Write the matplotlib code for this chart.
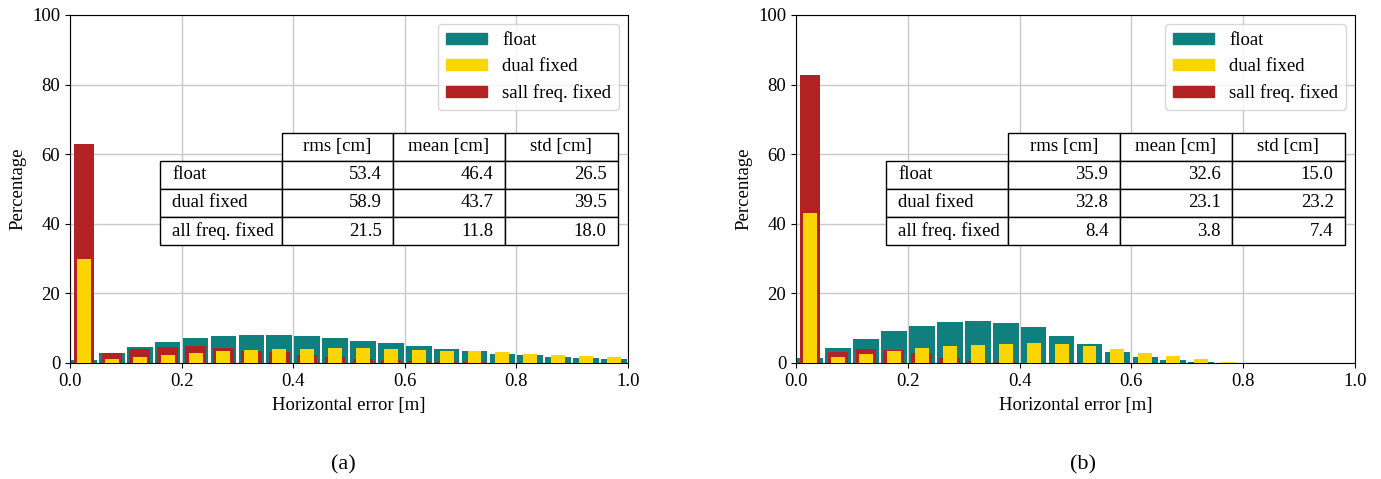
import numpy as np
import matplotlib.pyplot as plt
from matplotlib.patches import Patch

plt.rcParams['font.family'] = ['Liberation Serif', 'DejaVu Serif']
plt.rcParams['font.size'] = 13.5

# histogram bins: 0.05 m wide, 0 .. 1 m
bin_edges = np.arange(0, 1.0001, 0.05)
bin_centers = bin_edges[:-1] + 0.025

# (a) percentages per bin
float_a = [0.86, 2.8, 4.5, 6.0, 7.1, 7.7, 8.0, 8.0, 7.7, 7.1,
           6.25, 5.7, 4.8, 3.9, 3.4, 2.5, 2.2, 1.6, 1.35, 1.06]
dual_a = [29.9, 1.15, 1.6, 2.2, 2.8, 3.4, 3.65, 3.9, 3.9, 4.2,
          4.2, 3.9, 3.65, 3.4, 3.4, 3.1, 2.5, 2.2, 1.9, 1.6]
allf_a = [62.9, 2.9, 3.9, 4.5, 4.8, 4.2, 3.4, 3.1, 2.2, 1.6,
          1.06, 0.77, 0.5, 0.3, 0.3, 0.1, 0.0, 0.0, 0.0, 0.0]

# (b) percentages per bin
float_b = [1.35, 4.2, 6.8, 9.1, 10.6, 11.7, 12.0, 11.4, 10.3, 7.7,
           5.4, 3.1, 1.6, 0.77, 0.2, 0.05, 0.0, 0.0, 0.0, 0.0]
dual_b = [43.1, 1.6, 2.5, 3.4, 4.2, 4.8, 5.1, 5.4, 5.7, 5.4,
          4.8, 3.9, 2.8, 1.9, 1.06, 0.3, 0.0, 0.0, 0.0, 0.0]
allf_b = [82.8, 3.2, 3.9, 3.65, 2.8, 1.35, 0.5, 0.3, 0.1, 0.0,
          0.0, 0.0, 0.0, 0.0, 0.0, 0.0, 0.0, 0.0, 0.0, 0.0]

# statistics tables
col_labels = ['rms [cm]', 'mean [cm]', 'std [cm]']
row_labels = ['float', 'dual fixed', 'all freq. fixed']
stats_a = [[53.4, 46.4, 26.5], [58.9, 43.7, 39.5], [21.5, 11.8, 18.0]]
stats_b = [[35.9, 32.6, 15.0], [32.8, 23.1, 23.2], [8.4, 3.8, 7.4]]

c_float = '#0f807d'
c_dual = '#fad500'
c_all = '#b22222'


def draw_panel(ax, fl, du, al, stats):
    ax.set_axisbelow(True)
    ax.grid(True, color='#c8c8c8', linewidth=1.0)
    ax.bar(bin_centers, fl, width=0.046, color=c_float, zorder=2)
    ax.bar(bin_centers, al, width=0.037, color=c_all, zorder=3)
    ax.bar(bin_centers, du, width=0.025, color=c_dual, zorder=4)
    ax.set_xlim(0, 1)
    ax.set_ylim(0, 100)
    ax.set_xticks(np.arange(0, 1.01, 0.2))
    ax.set_yticks(np.arange(0, 101, 20))
    ax.set_xlabel('Horizontal error [m]', labelpad=5)
    ax.set_ylabel('Percentage')

    handles = [Patch(color=c_float, label='float'),
               Patch(color=c_dual, label='dual fixed'),
               Patch(color=c_all, label='sall freq. fixed')]
    ax.legend(handles=handles, loc='upper right', handlelength=2.2,
              handleheight=0.5, borderaxespad=0.5)

    cells = [[''] + col_labels]
    for name, row in zip(row_labels, stats):
        cells.append([name] + ['%.1f' % v for v in row])
    widths = [122, 111, 112, 113]
    widths = [w / sum(widths) for w in widths]
    tab = ax.table(cellText=cells, colWidths=widths,
                   bbox=[0.161, 0.339, 0.821, 0.322], zorder=5)
    tab.auto_set_font_size(False)
    tab.set_fontsize(13.5)
    for (r, c), cell in tab.get_celld().items():
        cell.set_linewidth(1.0)
        if r == 0:
            cell._loc = 'center'
            cell.get_text().set_ha('center')
            if c == 0:
                cell.visible_edges = ''
        elif c == 0:
            cell._loc = 'left'
            cell.get_text().set_ha('left')
        else:
            cell._loc = 'right'
            cell.get_text().set_ha('right')


fig = plt.figure(figsize=(13.81, 4.79), dpi=100)
ax_a = fig.add_axes([0.0507, 0.2422, 0.404, 0.7265])
ax_b = fig.add_axes([0.5764, 0.2422, 0.4048, 0.7265])

draw_panel(ax_a, float_a, dual_a, allf_a, stats_a)
draw_panel(ax_b, float_b, dual_b, allf_b, stats_b)

fig.text(343 / 1381, 1 - 465 / 479, '(a)', ha='center', va='center', fontsize=16)
fig.text(1083 / 1381, 1 - 465 / 479, '(b)', ha='center', va='center', fontsize=16)

fig.savefig('out.png', dpi=100)
